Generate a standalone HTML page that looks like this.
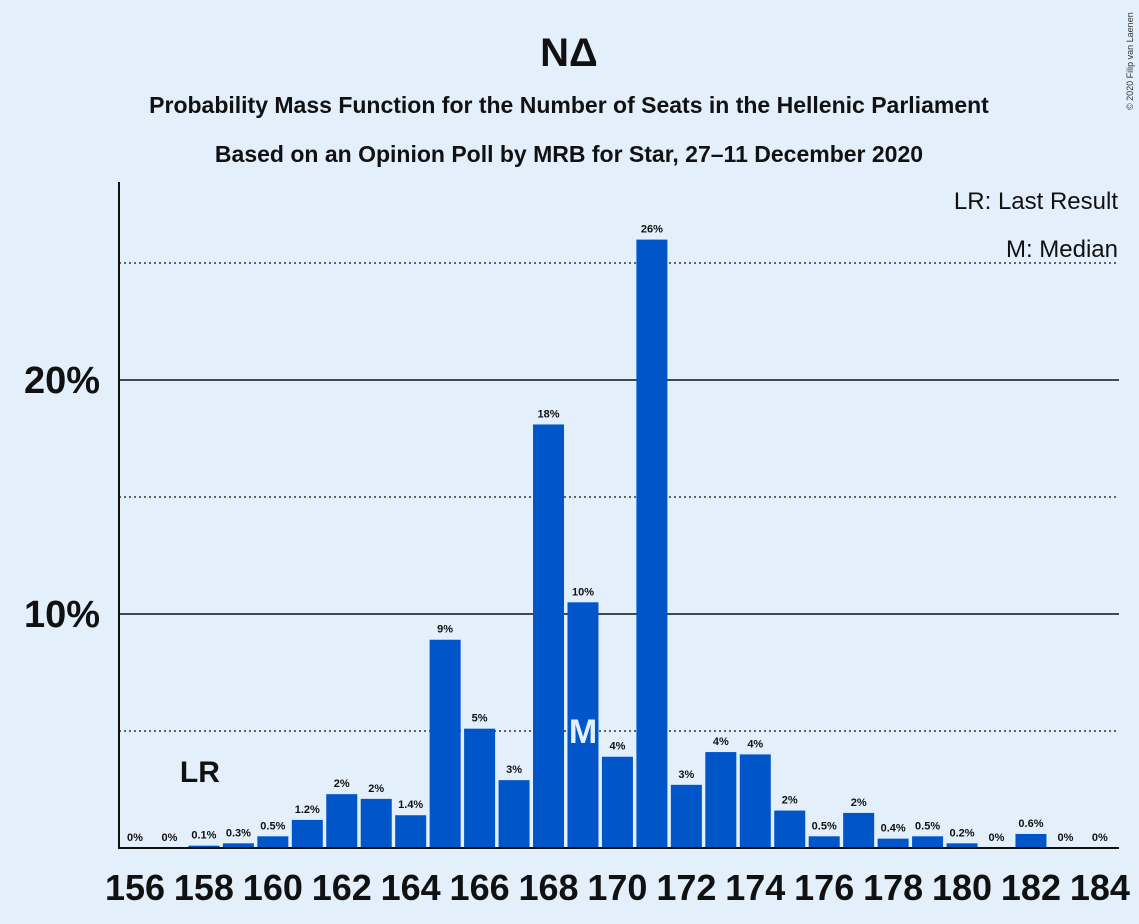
<!DOCTYPE html>
<html><head><meta charset="utf-8"><style>
body{margin:0;background:#e3f0fc;font-family:"Liberation Sans",sans-serif}
svg{display:block}
</style></head><body>
<svg id="c" width="1139" height="924">
<rect width="1139" height="924" fill="#e3f0fc"/>
<text x="569" y="66" text-anchor="middle" font-size="40" font-weight="bold" fill="#111">NΔ</text>
<text x="569" y="113" text-anchor="middle" font-size="23" font-weight="bold" fill="#111">Probability Mass Function for the Number of Seats in the Hellenic Parliament</text>
<text x="569" y="162" text-anchor="middle" font-size="23" font-weight="bold" fill="#111">Based on an Opinion Poll by MRB for Star, 27–11 December 2020</text>
<text x="1133" y="110" font-size="9" fill="#333" transform="rotate(-90 1133 110)">© 2020 Filip van Laenen</text>
<g id="grid"></g>
<g id="bars"></g>
<g id="xt"></g>
<line x1="119" y1="182" x2="119" y2="849" stroke="#111" stroke-width="2"/>
<line x1="118" y1="848" x2="1119" y2="848" stroke="#111" stroke-width="2"/>
<text x="1118" y="209" text-anchor="end" font-size="24" fill="#111">LR: Last Result</text>
<text x="1118" y="257" text-anchor="end" font-size="24" fill="#111">M: Median</text>
</svg>
<script>
const seats=[156,157,158,159,160,161,162,163,164,165,166,167,168,169,170,171,172,173,174,175,176,177,178,179,180,181,182,183,184];
const values=[0,0,0.1,0.2,0.5,1.2,2.3,2.1,1.4,8.9,5.1,2.9,18.1,10.5,3.9,26.0,2.7,4.1,4.0,1.6,0.5,1.5,0.4,0.5,0.2,0,0.6,0,0];
const labels=["0%","0%","0.1%","0.3%","0.5%","1.2%","2%","2%","1.4%","9%","5%","3%","18%","10%","4%","26%","3%","4%","4%","2%","0.5%","2%","0.4%","0.5%","0.2%","0%","0.6%","0%","0%"];
const yTicks=[10,20];
const yDotted=[5,15,25];
const lastResult=158, median=169;
const NS="http://www.w3.org/2000/svg";
const y=v=>848-v*23.4;
const x=s=>135+(s-156)*34.46;
function mk(p,t,a){const e=document.createElementNS(NS,t);for(const k in a)e.setAttribute(k,a[k]);p.appendChild(e);return e;}
const g=document.getElementById('grid');
yDotted.forEach(v=>{const l=mk(g,'line',{x1:119,x2:1119,y1:y(v),y2:y(v),stroke:'#111','stroke-width':1.3,'stroke-dasharray':'2,3'});

});
yTicks.forEach(v=>{const l=mk(g,'line',{x1:119,x2:1119,y1:y(v),y2:y(v),stroke:'#111','stroke-width':1.5});


const t=mk(g,'text',{x:100,y:y(v)+13,'text-anchor':'end','font-size':38,'font-weight':'bold',fill:'#111'});t.textContent=v+'%';

});
const b=document.getElementById('bars');
seats.forEach((s,i)=>{const v=values[i];
const r=mk(b,'rect',{x:x(s)-15.5,y:y(v),width:31,height:848-y(v),fill:'#0055c8'});


const t=mk(b,'text',{x:x(s),y:y(v)-7,'text-anchor':'middle','font-size':11,'font-weight':'bold',fill:'#111'});t.textContent=labels[i];


if(s===median){const m=mk(b,'text',{x:x(s),y:y(5)+12,'text-anchor':'middle','font-size':34,'font-weight':'bold',fill:'#e3f0fc'});m.textContent='M';

}
if(s===lastResult){const m=mk(b,'text',{x:x(s)-4,y:782,'text-anchor':'middle','font-size':30,'font-weight':'bold',fill:'#111'});m.textContent='LR';

}
});
const xt=document.getElementById('xt');
seats.forEach(s=>{if(s%2)return;const t=mk(xt,'text',{x:x(s),y:900,'text-anchor':'middle','font-size':36,'font-weight':'bold',fill:'#111'});t.textContent=s;

});
</script>
</body></html>
